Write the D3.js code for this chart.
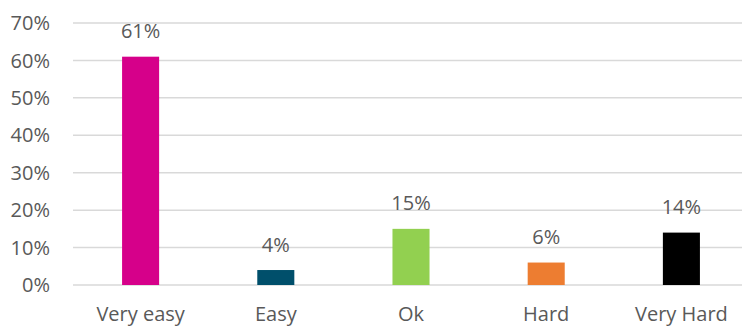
<!DOCTYPE html>
<html>
<head>
<meta charset="utf-8">
<script src="https://cdn.jsdelivr.net/npm/d3@7"></script>
<style>
	html, body { margin: 0; padding: 0; background: #fff; }
	svg text { font-family: 'Open Sans', sans-serif; fill: #595959; }
</style>
</head>
<body>
<div id="chart"></div>
<script>
const categories = ['Very easy', 'Easy', 'Ok', 'Hard', 'Very Hard']
const values     = [0.61, 0.04, 0.15, 0.06, 0.14]
const colors     = ['#d6008a', '#004f6b', '#92d050', '#ed7d31', '#000000']
const yTicks     = [0, 0.1, 0.2, 0.3, 0.4, 0.5, 0.6, 0.7]

const w = 742, h = 327

const svg = d3.select('#chart').append('svg')
	.attr('width', w)
	.attr('height', h)

const x = d3.scaleBand()
	.domain(categories)
	.range([73, 749])
	.paddingInner(0.726)
	.paddingOuter(0.363)

const y = d3.scaleLinear()
	.domain([0, 0.7])
	.range([285, 23])

const pct = d3.format('.0%')

// Gridlines

svg.append('g')
	.selectAll('line')
	.data(yTicks)
	.enter()
	.append('line')
	.attr('x1', 73)
	.attr('x2', w)
	.attr('y1', d => y(d))
	.attr('y2', d => y(d))
	.attr('stroke', '#d9d9d9')
	.attr('stroke-width', 1.5)

// Y labels

svg.append('g')
	.selectAll('text')
	.data(yTicks)
	.enter()
	.append('text')
	.attr('x', 50)
	.attr('y', d => y(d))
	.attr('dy', '0.36em')
	.attr('text-anchor', 'end')
	.style('font-size', '20px')
	.text(pct)

// Bars

svg.append('g')
	.selectAll('rect')
	.data(values)
	.enter()
	.append('rect')
	.attr('x', (d, i) => x(categories[i]))
	.attr('width', x.bandwidth())
	.attr('y', d => y(d))
	.attr('height', d => y(0) - y(d))
	.attr('fill', (d, i) => colors[i])

// Value labels

svg.append('g')
	.selectAll('text')
	.data(values)
	.enter()
	.append('text')
	.attr('x', (d, i) => x(categories[i]) + x.bandwidth() / 2)
	.attr('y', d => y(d) - 18.5)
	.attr('text-anchor', 'middle')
	.style('font-size', '20px')
	.text(pct)

// Category labels

svg.append('g')
	.selectAll('text')
	.data(categories)
	.enter()
	.append('text')
	.attr('x', d => x(d) + x.bandwidth() / 2)
	.attr('y', 321)
	.attr('text-anchor', 'middle')
	.style('font-size', '20px')
	.text(d => d)
</script>
</body>
</html>
